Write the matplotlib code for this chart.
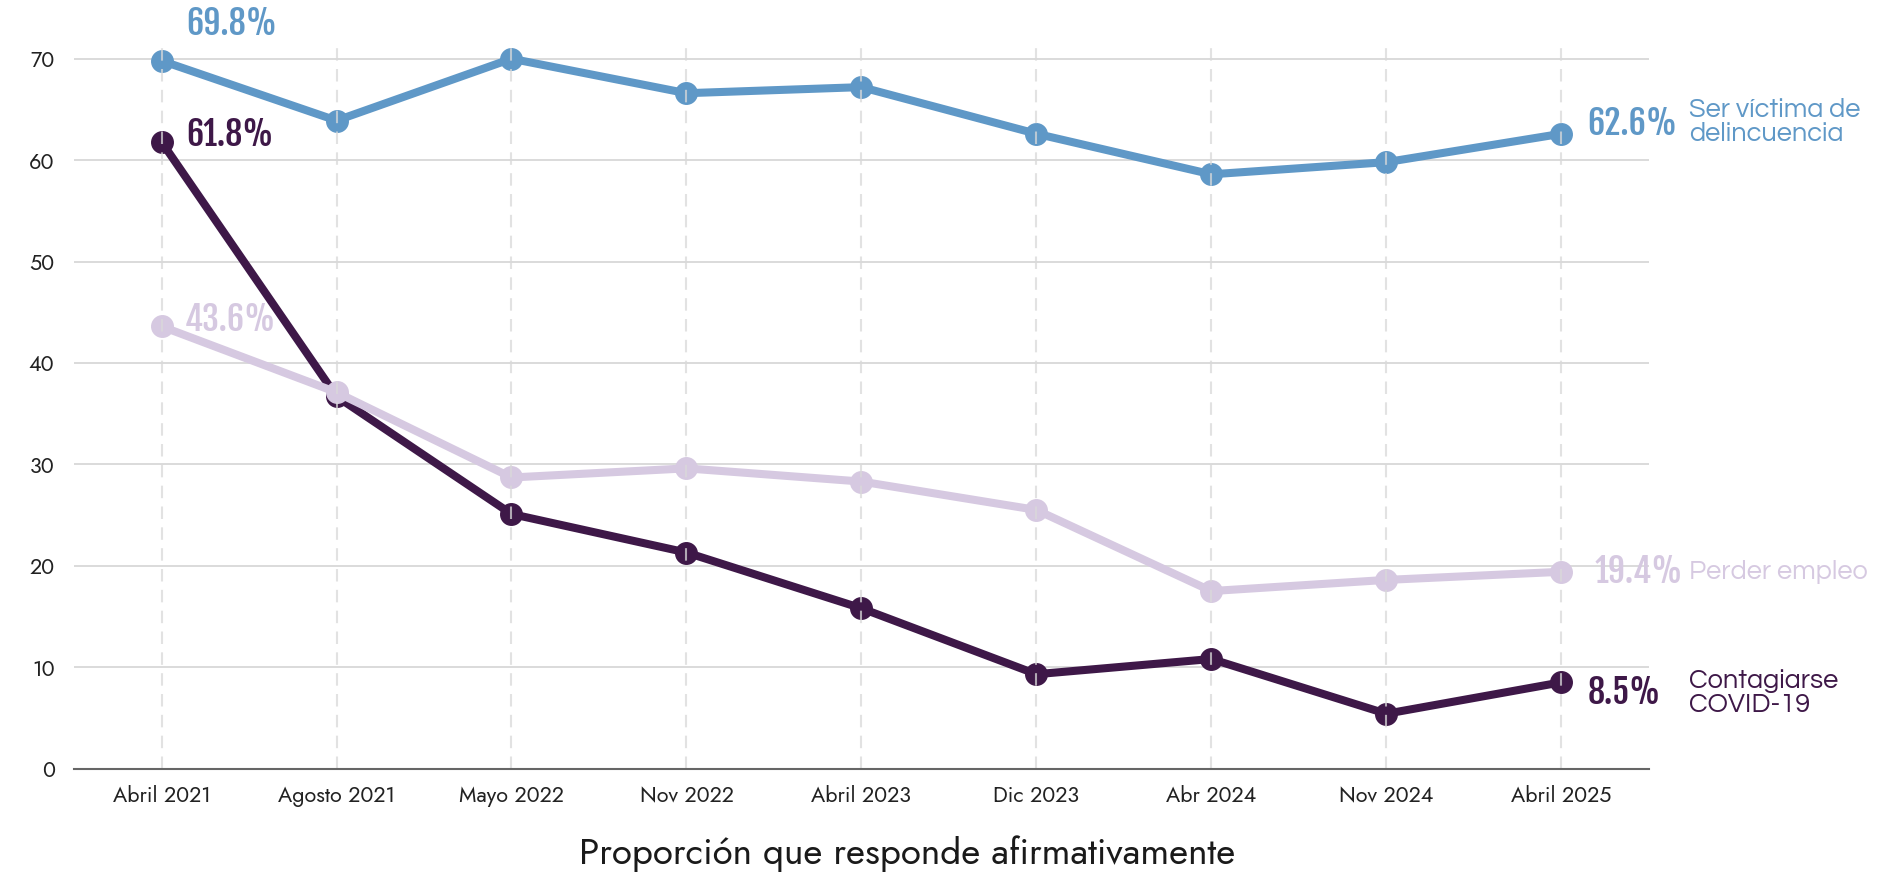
import matplotlib
matplotlib.use("Agg")
import matplotlib.pyplot as plt
import numpy as np

periods = ["Abril 2021", "Agosto 2021", "Mayo 2022", "Nov 2022", "Abril 2023",
           "Dic 2023", "Abr 2024", "Nov 2024", "Abril 2025"]
delincuencia = [69.8, 63.9, 70.0, 66.6, 67.2, 62.6, 58.6, 59.8, 62.6]
covid = [61.8, 36.7, 25.1, 21.3, 15.8, 9.3, 10.8, 5.4, 8.5]
empleo = [43.6, 37.1, 28.7, 29.6, 28.3, 25.5, 17.5, 18.6, 19.4]
yticks = [0, 10, 20, 30, 40, 50, 60, 70]
xlabel = "Proporción que responde afirmativamente"

c_blue = "#5f98c7"
c_dark = "#3e1848"
c_light = "#d6c9e1"

pfont = dict(family=['Fjalla One', 'DejaVu Sans'], fontsize=24.5)

plt.rcParams['font.family'] = ['Jost', 'DejaVu Sans']
fig = plt.figure(figsize=(18.8, 8.73), dpi=100)
ax = fig.add_axes([0.0394, 0.1197, 0.8376, 0.8258])

x = np.arange(len(periods))
ax.set_xlim(-0.5, len(periods) - 0.5)
ax.set_ylim(0, 71.1)

for yt in yticks[1:]:
    ax.axhline(yt, color="#d4d4d4", lw=1.2, zorder=1)
for xi in x:
    ax.axvline(xi, color="#d9d9d9", lw=1.5, ls=(0, (6, 4)), zorder=10, alpha=0.75)

kw = dict(lw=5.8, marker="o", markersize=15.5, solid_capstyle="round")
ax.plot(x, covid, color=c_dark, zorder=3, **kw)
ax.plot(x, empleo, color=c_light, zorder=4, **kw)
ax.plot(x, delincuencia, color=c_blue, zorder=5, **kw)

for s in ["top", "right", "left"]:
    ax.spines[s].set_visible(False)
ax.spines["bottom"].set_color("#666666")
ax.spines["bottom"].set_linewidth(1.5)
ax.spines["bottom"].set_zorder(11)

ax.set_yticks(yticks)
ax.set_yticklabels([str(v) for v in yticks], fontsize=15.5, color="#222222")
ax.set_xticks(x)
ax.set_xticklabels(periods, fontsize=15.5, color="#222222")
ax.tick_params(axis="both", length=0)
ax.tick_params(axis="y", pad=14)
ax.tick_params(axis="x", pad=12)

def pct(xi, yi, txt, dx, dy, color):
    ax.annotate(txt, xy=(xi, yi), xytext=(dx, dy), textcoords="offset pixels",
                ha="left", va="center", color=color, annotation_clip=False,
                zorder=12, **pfont)

pct(x[0], delincuencia[0], f"{delincuencia[0]}%", 25, 37, c_blue)
pct(x[0], covid[0], f"{covid[0]}%", 25, 7, c_dark)
pct(x[0], empleo[0], f"{empleo[0]}%", 23, 7, c_light)
pct(x[-1], delincuencia[-1], f"{delincuencia[-1]}%", 26, 10, c_blue)
pct(x[-1], empleo[-1], f"{empleo[-1]}%", 33, 0, c_light)
pct(x[-1], covid[-1], f"{covid[-1]}%", 26, -10, c_dark)

nfont = dict(family=['Questrial', 'DejaVu Sans'], fontsize=19.5, linespacing=1.0)

def name(yi, txt, dy, color):
    ax.annotate(txt, xy=(x[-1], yi), xytext=(128, dy), textcoords="offset pixels",
                ha="left", va="center", color=color, annotation_clip=False, **nfont)

name(delincuencia[-1], "Ser víctima de\ndelincuencia", 12, c_blue)
name(empleo[-1], "Perder empleo", 0, c_light)
name(covid[-1], "Contagiarse\nCOVID-19", -11, c_dark)

fig.text(0.4825, 0.022, xlabel, ha="center", va="center", fontsize=26.5, color="#1a1a1a",
         family=['Jost', 'DejaVu Sans'])

fig.savefig("out.png", dpi=100, facecolor="white")
